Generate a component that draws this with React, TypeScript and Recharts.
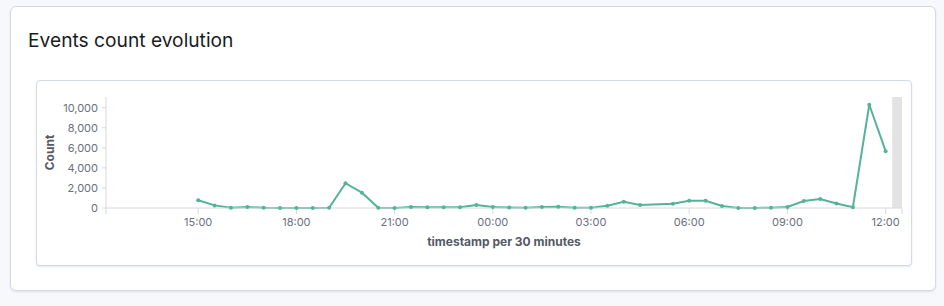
import { LineChart, Line, XAxis, YAxis, ReferenceArea } from "recharts";

const GREEN = "#54b399";
const BORDER = "#d3dae6";
const AXIS = "#d6d8dc";
const TICK = "#69707d";
const LABEL = "#535966";

// half-hour buckets, day 1 15:00 -> day 2 12:00
const bucketLabels = [
  "15:00", "15:30", "16:00", "16:30", "17:00", "17:30", "18:00", "18:30", "19:00", "19:30",
  "20:00", "20:30", "21:00", "21:30", "22:00", "22:30", "23:00", "23:30", "00:00", "00:30",
  "01:00", "01:30", "02:00", "02:30", "03:00", "03:30", "04:00", "04:30", "05:00", "05:30",
  "06:00", "06:30", "07:00", "07:30", "08:00", "08:30", "09:00", "09:30", "10:00", "10:30",
  "11:00", "11:30", "12:00",
];
const eventCounts: (number | null)[] = [
  780, 260, 30, 100, 20, 10, 10, 10, 20, 2470,
  1530, 20, 10, 100, 80, 80, 80, 300, 100, 50,
  20, 100, 120, 30, 20, 230, 630, 300, null, 430,
  730, 730, 200, 10, 10, 20, 100, 700, 900, 450,
  80, 10300, 5670,
];
const xTickLabels = ["15:00", "18:00", "21:00", "00:00", "03:00", "06:00", "09:00", "12:00"];
const yTicks = [0, 2000, 4000, 6000, 8000, 10000];

// minutes from midnight of day 1
const toMinutes = (label: string, nextDay: boolean) => {
  const [h, m] = label.split(":").map(Number);
  return h * 60 + m + (nextDay ? 1440 : 0);
};

let crossed = false;
const data = bucketLabels.map((label, i) => {
  if (i > 0 && label === "00:00") crossed = true;
  return { t: toMinutes(label, crossed), count: eventCounts[i] };
});

const X_START = 731;
const X_END = 2190;
const PARTIAL_START = 2172;

const xTicks = [X_START, ...xTickLabels.map((l, i) => toMinutes(l, i >= 3)), X_END];

const fmtTime = (v: number) => {
  if (v === X_START || v === X_END) return "";
  const m = v % 1440;
  const h = Math.floor(m / 60);
  const mm = m % 60;
  return `${String(h).padStart(2, "0")}:${String(mm).padStart(2, "0")}`;
};

const font = "Inter, 'Noto Sans', sans-serif";

export default function App() {
  return (
    <div style={{ position: "fixed", left: 0, top: 0, width: 944, height: 306, background: "#f7f8fc", fontFamily: font }}>
      <div
        style={{
          position: "absolute", left: 10, top: 6, width: 926, height: 285, boxSizing: "border-box",
          background: "#fff", border: `1px solid ${BORDER}`, borderRadius: 6,
          boxShadow: "0 1px 2px rgba(152,162,179,0.25)",
        }}
      />
      <div style={{ position: "absolute", left: 28, top: 26, fontSize: 19.2, color: "#1a1c21", lineHeight: "28px" }}>
        Events count evolution
      </div>
      <div
        style={{
          position: "absolute", left: 36, top: 80, width: 876, height: 186, boxSizing: "border-box",
          background: "#fff", border: `1px solid ${BORDER}`, borderRadius: 4,
          boxShadow: "0 1px 2px rgba(152,162,179,0.25)",
        }}
      />
      <div style={{ position: "absolute", left: 36, top: 80 }}>
        <LineChart width={875} height={186} data={data} margin={{ top: 17, right: 9, left: 0, bottom: 0 }}>
          <ReferenceArea x1={PARTIAL_START} x2={X_END} y1={0} y2={11070} fill="#e3e3e3" fillOpacity={1} stroke="none" ifOverflow="hidden" />
          <XAxis
            dataKey="t"
            type="number"
            domain={[X_START, X_END]}
            ticks={xTicks}
            tickFormatter={fmtTime}
            interval={0}
            height={58}
            stroke={AXIS}
            tickSize={6}
            tickMargin={4}
            tick={{ fill: TICK, fontSize: 11, fontFamily: font }}
            label={{ value: "timestamp per 30 minutes", position: "insideBottom", offset: 20, fill: LABEL, fontSize: 12, fontWeight: 700, fontFamily: font }}
          />
          <YAxis
            type="number"
            domain={[0, 11070]}
            ticks={yTicks}
            width={70}
            stroke={AXIS}
            tickSize={4}
            tickMargin={4}
            tickFormatter={(v: number) => v.toLocaleString("en-US")}
            tick={{ fill: TICK, fontSize: 11, fontFamily: font }}
            label={{ value: "Count", angle: -90, position: "insideLeft", offset: 14, fill: LABEL, fontSize: 12, fontWeight: 700, fontFamily: font, style: { textAnchor: "middle" } }}
          />
          <Line
            dataKey="count"
            type="linear"
            stroke={GREEN}
            strokeWidth={2}
            dot={{ r: 2, fill: GREEN, stroke: GREEN, strokeWidth: 0 }}
            connectNulls
            isAnimationActive={false}
          />
        </LineChart>
      </div>
    </div>
  );
}
